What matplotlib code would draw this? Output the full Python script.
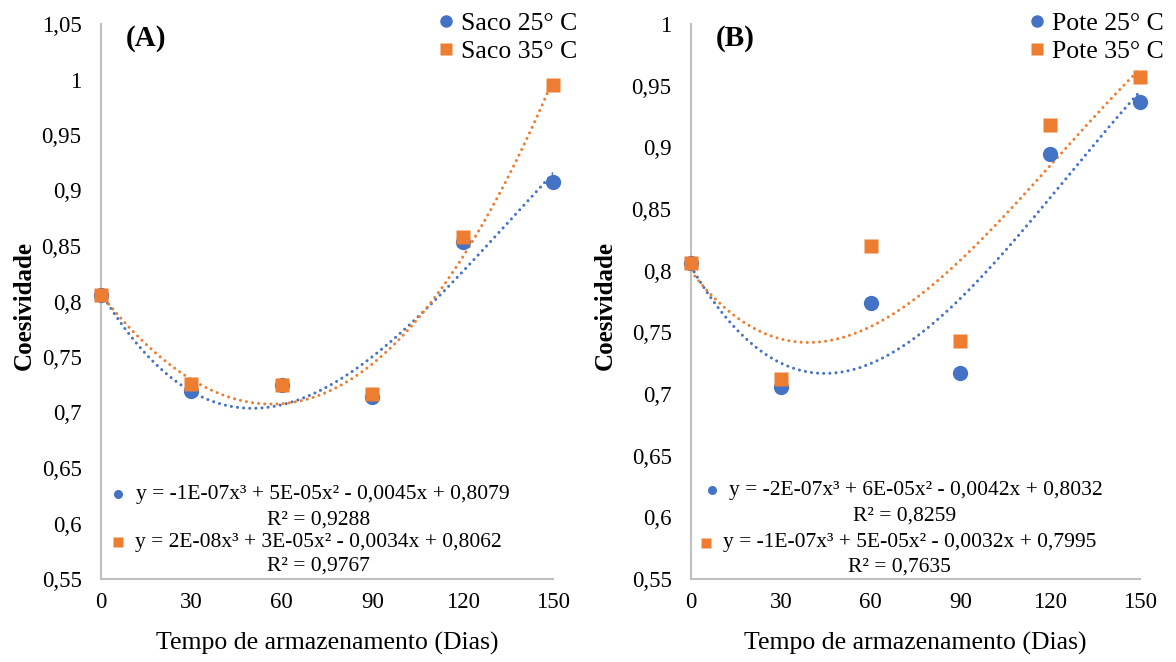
import numpy as np
import matplotlib
matplotlib.use("Agg")
import matplotlib.pyplot as plt
from matplotlib.lines import Line2D
from matplotlib.ticker import FuncFormatter, MultipleLocator

plt.rcParams['font.family'] = ['Liberation Serif', 'DejaVu Serif']

dias = [0, 30, 60, 90, 120, 150]
saco_25 = [0.806, 0.719, 0.725, 0.714, 0.854, 0.908]
saco_35 = [0.806, 0.726, 0.725, 0.717, 0.858, 0.995]
pote_25 = [0.806, 0.706, 0.774, 0.717, 0.895, 0.937]
pote_35 = [0.806, 0.712, 0.820, 0.743, 0.918, 0.957]

eq_a = ["y = -1E-07x³ + 5E-05x² - 0,0045x + 0,8079", "R² = 0,9288",
        "y = 2E-08x³ + 3E-05x² - 0,0034x + 0,8062", "R² = 0,9767"]
eq_b = ["y = -2E-07x³ + 6E-05x² - 0,0042x + 0,8032", "R² = 0,8259",
        "y = -1E-07x³ + 5E-05x² - 0,0032x + 0,7995", "R² = 0,7635"]

BLUE = '#4472C4'
ORANGE = '#ED7D31'
W, H = 1176, 662
fig = plt.figure(figsize=(W/100, H/100), dpi=100)

AX_TOP, AX_BOT = 24, 579

def fmt(v, pos):
    return ('{:g}'.format(round(v, 4))).replace('.', ',')

def make_panel(left, right, ylab_x, s1, s2, names, eqs, ymax, letter, leg_x,
               eq_lines, eq_marks):
    ax = fig.add_axes([left/W, (H-AX_BOT)/H, (right-left)/W, (AX_BOT-AX_TOP)/H])
    axw, axh = right - left, AX_BOT - AX_TOP
    fx = lambda px: (px - left) / axw
    fy = lambda py: (AX_BOT - py) / axh
    xx = np.linspace(0, 150, 300)
    for ys, c in ((s1, BLUE), (s2, ORANGE)):
        p = np.polyfit(dias, ys, 3)
        ax.plot(xx, np.polyval(p, xx), color=c, lw=2.2, ls=(0, (0.01, 2.0)),
                dash_capstyle='round', zorder=2)
    ax.plot(dias, s1, 'o', color=BLUE, ms=11, mec='none', zorder=3, clip_on=False)
    ax.plot(dias, s2, 's', color=ORANGE, ms=10.5, mec='none', zorder=4, clip_on=False)
    ax.set_xlim(0, 150)
    ax.set_ylim(0.55, ymax)
    ax.xaxis.set_major_locator(MultipleLocator(30))
    ax.yaxis.set_major_locator(MultipleLocator(0.05))
    ax.yaxis.set_major_formatter(FuncFormatter(fmt))
    for s in ('top', 'right'):
        ax.spines[s].set_visible(False)
    for s in ('left', 'bottom'):
        ax.spines[s].set_color('#BFBFBF')
        ax.spines[s].set_linewidth(1.5)
    ax.tick_params(axis='y', length=0, pad=14, labelsize=16.5)
    ax.tick_params(axis='x', length=0, pad=9, labelsize=16.5)
    ax.set_xlabel('Tempo de armazenamento (Dias)', fontsize=18.5)
    ax.xaxis.set_label_coords(0.5, -0.095)
    ax.set_ylabel('Coesividade', fontsize=18, fontweight='bold')
    ax.yaxis.set_label_coords(fx(ylab_x), 0.492)
    ax.text(fx(left + 25), fy(38), letter, transform=ax.transAxes, fontsize=21,
            fontweight='bold', va='center', ha='left')
    # top legend
    handles = [Line2D([], [], ls='none', marker='o', color=BLUE, ms=9, mec='none'),
               Line2D([], [], ls='none', marker='s', color=ORANGE, ms=9, mec='none')]
    fig.legend(handles, names, loc='upper left', bbox_to_anchor=(leg_x/W, 1 - 12/H),
               frameon=False, fontsize=18.5, handletextpad=0.15, handlelength=0.9,
               labelspacing=0.2, borderaxespad=0, borderpad=0)
    # equation block
    for txt, (cx, cy) in zip(eqs, eq_lines):
        ax.text(fx(cx), fy(cy), txt, transform=ax.transAxes, ha='center',
                va='center', fontsize=15.5)
    for (mx, my), c, m in zip(eq_marks, (BLUE, ORANGE), ('o', 's')):
        ax.plot([fx(mx)], [fy(my)], m, color=c, ms=6.5, mec='none',
                transform=ax.transAxes, clip_on=False)
    return ax

ax_a = make_panel(101, 553, 36, saco_25, saco_35, ['Saco 25° C', 'Saco 35° C'],
                  eq_a, 1.05, '(A)', 434,
                  [(323, 495), (319, 520), (318, 542), (318, 566)],
                  [(118, 494), (118, 542)])
ax_b = make_panel(691, 1140, 617, pote_25, pote_35, ['Pote 25° C', 'Pote 35° C'],
                  eq_b, 1.0, '(B)', 1025,
                  [(916, 491), (905, 516), (910, 543), (899, 567)],
                  [(712, 490), (706, 543)])

fig.savefig('out.png', dpi=100)
